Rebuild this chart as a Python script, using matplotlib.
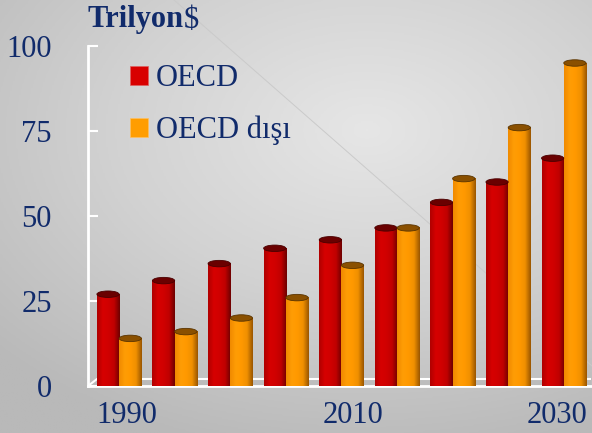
import numpy as np
import matplotlib
matplotlib.use("Agg")
import matplotlib.pyplot as plt
from matplotlib.patches import Ellipse, Patch
from matplotlib.colors import LinearSegmentedColormap

years = [1990, 1995, 2000, 2005, 2010, 2015, 2020, 2025, 2030]
oecd = [27, 31, 36, 40.5, 43, 46.5, 54, 60, 67]
non_oecd = [14, 16, 20, 26, 35.5, 46.5, 61, 76, 95]
series_names = ["OECD", "OECD dışı"]
yticks = [0, 25, 50, 75, 100]
shown_years = [1990, 2010, 2030]

navy = "#112b6b"
plt.rcParams["font.family"] = ["Liberation Serif", "DejaVu Serif"]

fig = plt.figure(figsize=(5.92, 4.33), dpi=100)

# slide background: soft radial grey gradient
bg = fig.add_axes([0, 0, 1, 1], zorder=-2)
yy, xx = np.mgrid[0:1:300j, 0:1:400j]
r = np.sqrt(((xx - 0.62) / 1.0) ** 2 + ((yy - 0.3) / 0.9) ** 2)
bg_cmap = LinearSegmentedColormap.from_list("bg", ["#e6e6e6", "#d2d2d2", "#b9b9b9"])
bg.imshow(r, cmap=bg_cmap, extent=[0, 1, 0, 1], origin="upper", aspect="auto", vmin=0, vmax=0.85)
bg.plot([174 / 592, 1.0], [1.0, 1 - 366 / 433], color="#cacaca", lw=0.7)
bg.set_xlim(0, 1)
bg.set_ylim(0, 1)
bg.axis("off")

ax = fig.add_axes([88 / 592, 47 / 433, 503 / 592, 340 / 433])
ax.set_facecolor("none")

red_cmap = LinearSegmentedColormap.from_list("r", ["#b00000", "#d60000", "#d00000", "#c00000", "#6e0000"])
org_cmap = LinearSegmentedColormap.from_list("o", ["#f08a00", "#ff9d05", "#ff9900", "#f09000", "#9a5600"])

bw = 0.4
grad = np.linspace(0, 1, 64).reshape(1, -1)
x = np.arange(len(years))
for vals, cmap, off, top, edge in [(oecd, red_cmap, -bw / 2, "#6a0000", "#4a0000"),
                                    (non_oecd, org_cmap, bw / 2, "#8a5000", "#5a3400")]:
    for xi, v in zip(x, vals):
        xc = xi + off
        ax.imshow(grad, cmap=cmap, extent=[xc - bw / 2, xc + bw / 2, 0, v],
                  aspect="auto", interpolation="bilinear", zorder=3)
        ax.add_patch(Ellipse((xc, v), bw, 1.9, facecolor=top, edgecolor=edge, lw=0.6, zorder=4))

ax.set_xlim(-0.56, 8.49)
ax.set_ylim(0, 100)

# floor of the 3d plot
ax.fill([0, 9 / 503, 1, 1], [0, 7 / 340, 7 / 340, 0], transform=ax.transAxes,
        color="#b8b8b8", alpha=0.5, lw=0, zorder=1)
ax.plot([0, 9 / 503, 1], [0, 7 / 340, 7 / 340], transform=ax.transAxes, color="white", lw=1.5, zorder=2)

for s in ["top", "right"]:
    ax.spines[s].set_visible(False)
for s in ["left", "bottom"]:
    ax.spines[s].set_color("white")
    ax.spines[s].set_linewidth(2)

ax.set_yticks(yticks)
ax.set_yticklabels([str(t) for t in yticks])
ax.tick_params(axis="y", direction="in", length=7, width=1.5, color="white",
               labelsize=22, labelcolor=navy, pad=26)
ax.set_xticks([years.index(y) + d for y, d in zip(shown_years, [0.14, 0.2, -0.12])])
ax.set_xticklabels([str(y) for y in shown_years])
ax.tick_params(axis="x", length=0, labelsize=22, labelcolor=navy, pad=11)

handles = [Patch(facecolor="#d80000", edgecolor="#e06060", lw=0.5),
           Patch(facecolor="#ff9d00", edgecolor="#ffc060", lw=0.5)]
leg = ax.legend(handles, series_names, loc="upper left", bbox_to_anchor=(0.083, 0.947),
                frameon=False, fontsize=22, handlelength=0.6, handleheight=0.6,
                handletextpad=0.25, labelspacing=0.75, borderpad=0, borderaxespad=0)
for t in leg.get_texts():
    t.set_color(navy)

t1 = fig.text(88 / 592, 1 - 20 / 433, "Trilyon", fontsize=22, fontweight="bold",
              color=navy, va="center", ha="left")
ax.annotate("\\$", xy=(1, 0.5), xycoords=t1, va="center", ha="left",
            fontsize=22, color=navy, annotation_clip=False)

fig.savefig("out.png", dpi=100)
